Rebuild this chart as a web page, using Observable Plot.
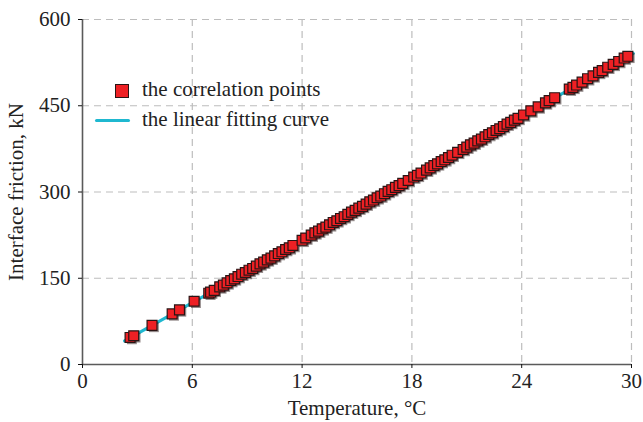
<!DOCTYPE html>
<html>
<head>
<meta charset="utf-8">
<script src="https://cdn.jsdelivr.net/npm/d3@7"></script>
<script src="https://cdn.jsdelivr.net/npm/@observablehq/plot@0.6"></script>
<style>
  html, body { margin: 0; padding: 0; background: #fff; }
  #wrap { position: relative; width: 643px; height: 422px; font-family: "Liberation Serif", "Times New Roman", serif; }
  .leg { position: absolute; font-size: 21px; color: #222; white-space: nowrap; line-height: 1; }
  .sw-sq { position: absolute; width: 12px; height: 12px; background: #ee2024; border: 1.5px solid #2a1414; }
  .sw-ln { position: absolute; width: 35px; height: 3px; background: #1fb8d0; border-radius: 2px; }
</style>
</head>
<body>
<div id="wrap"></div>
<script>
const pointX = [2.6, 2.8, 3.8, 4.9, 5.3, 6.1, 6.9, 7.0, 7.2, 7.5, 7.7, 7.9, 8.1, 8.3, 8.5, 8.7, 8.9, 9.1, 9.3, 9.5, 9.7, 9.9, 10.1, 10.3, 10.5, 10.7, 10.9, 11.1, 11.3, 11.5, 12.0, 12.2, 12.5, 12.7, 12.9, 13.1, 13.3, 13.5, 13.7, 13.9, 14.1, 14.3, 14.5, 14.7, 14.9, 15.1, 15.3, 15.5, 15.7, 15.9, 16.1, 16.3, 16.5, 16.7, 16.9, 17.1, 17.3, 17.5, 17.8, 18.1, 18.3, 18.5, 18.8, 19.0, 19.2, 19.4, 19.6, 19.8, 20.0, 20.2, 20.5, 20.8, 21.0, 21.2, 21.4, 21.6, 21.8, 22.0, 22.2, 22.4, 22.6, 22.8, 23.0, 23.2, 23.4, 23.6, 23.8, 24.1, 24.5, 24.9, 25.3, 25.5, 25.8, 26.6, 26.8, 27.0, 27.3, 27.6, 27.9, 28.2, 28.4, 28.7, 29.0, 29.3, 29.6, 29.8];
const pointY = [47, 50, 68, 88, 95, 110, 124, 126, 129, 135, 138, 142, 146, 149, 153, 157, 160, 164, 167, 171, 175, 178, 182, 185, 189, 193, 196, 200, 203, 207, 216, 220, 225, 229, 232, 236, 239, 243, 247, 250, 254, 257, 261, 265, 268, 272, 275, 279, 283, 286, 290, 293, 297, 301, 304, 308, 311, 315, 320, 326, 329, 333, 338, 342, 346, 349, 353, 356, 360, 364, 369, 374, 378, 382, 385, 389, 392, 396, 400, 403, 407, 410, 414, 418, 421, 425, 428, 434, 441, 448, 455, 459, 464, 479, 482, 486, 491, 497, 502, 508, 511, 517, 522, 527, 533, 536];
const fitX = [2.3, 30.1];
const fitY = [41, 541];
const xTicks = [0, 6, 12, 18, 24, 30];
const yTicks = [0, 150, 300, 450, 600];
const xGrid = [6, 12, 18, 24, 30];
const yGrid = [150, 300, 450, 600];

const points = pointX.map((x, i) => ({x, y: pointY[i]}));
const fit = fitX.map((x, i) => ({x, y: fitY[i]}));

const chart = Plot.plot({
  width: 643,
  height: 422,
  marginLeft: 82,
  marginRight: 12,
  marginTop: 19,
  marginBottom: 58,
  style: {fontFamily: '"Liberation Serif", "Times New Roman", serif', fontSize: "21px", color: "#222", background: "#fff"},
  x: {type: "linear", domain: [0, 30]},
  y: {type: "linear", domain: [0, 600]},
  marks: [
    Plot.ruleX(xGrid, {stroke: "#bdbdbd", strokeWidth: 1.2, strokeDasharray: "7,5"}),
    Plot.ruleY(yGrid, {stroke: "#bdbdbd", strokeWidth: 1.2, strokeDasharray: "7,5"}),
    Plot.ruleX([0], {stroke: "#5a5a5a", strokeWidth: 1.6}),
    Plot.ruleY([0], {stroke: "#5a5a5a", strokeWidth: 1.6}),
    Plot.axisX({ticks: xTicks, tickSize: 4, tickPadding: 5, label: "Temperature, °C", labelAnchor: "center", labelArrow: "none", labelOffset: 50, fontSize: 21, stroke: "#111"}),
    Plot.axisY({ticks: yTicks, tickSize: 4, tickPadding: 8, label: "Interface friction, kN", labelAnchor: "center", labelArrow: "none", labelOffset: 74, fontSize: 21, stroke: "#111"}),
    Plot.line(fit, {x: "x", y: "y", stroke: "#1fb8d0", strokeWidth: 3}),
    Plot.dot(points, {x: "x", y: "y", symbol: "square", r: 5.6, fill: "#3a2a2a", fillOpacity: 0.55, stroke: "none", dx: 1.8, dy: 1.8}),
    Plot.dot(points, {x: "x", y: "y", symbol: "square", r: 5.6, fill: "#ee2024", stroke: "#2a1414", strokeWidth: 1.2})
  ]
});
const wrap = document.getElementById("wrap");
wrap.appendChild(chart);

function addLegend(html, left, top, cls) {
  const d = document.createElement("div");
  d.className = cls;
  d.style.left = left + "px";
  d.style.top = top + "px";
  d.innerHTML = html;
  wrap.appendChild(d);
}
addLegend("", 115, 84, "sw-sq");
addLegend("the correlation points", 142, 79, "leg");
addLegend("", 95, 119, "sw-ln");
addLegend("the linear fitting curve", 142, 109, "leg");
</script>
</body>
</html>
